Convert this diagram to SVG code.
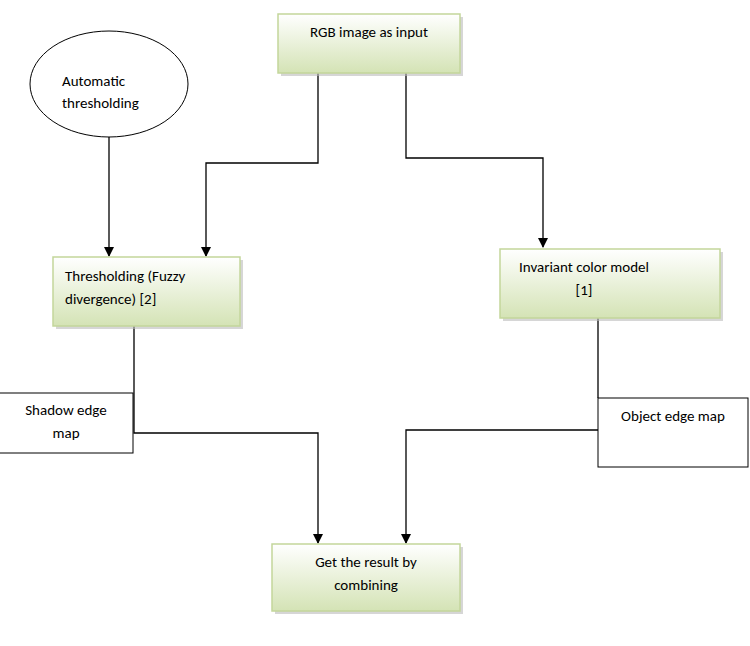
<svg xmlns="http://www.w3.org/2000/svg" width="750" height="646" viewBox="0 0 750 646">
<defs>
<linearGradient id="g" x1="0" y1="0" x2="0" y2="1"><stop offset="0" stop-color="#ffffff"/><stop offset="1" stop-color="#d4e3b5"/></linearGradient>
<marker id="a" markerWidth="10" markerHeight="10" refX="9" refY="5" orient="auto" markerUnits="userSpaceOnUse" viewBox="0 0 10 10"><path d="M0,0 L10,5 L0,10 z" fill="#000"/></marker>
</defs>
<style>
.gb{fill:url(#g);stroke:#c3d69b;stroke-width:1.5}
.sh{fill:#bbbbbb;opacity:0.6}
.wb{fill:#fff;stroke:#000;stroke-width:1}
text{font-family:Calibri,Carlito,"Liberation Sans",sans-serif;font-size:15px;fill:#000}
.c{fill:none;stroke:#000;stroke-width:1.3}
</style>
<rect width="750" height="646" fill="#fff"/>
<g id="connectors">
<path class="c" d="M109,137 V256" marker-end="url(#a)"/>
<path class="c" d="M318,73 V163 H206 V256" marker-end="url(#a)"/>
<path class="c" d="M406,73 V158 H543 V247" marker-end="url(#a)"/>
<path class="c" d="M134,326 V433 H318 V543" marker-end="url(#a)"/>
<path class="c" d="M598,318 V398"/>
<path class="c" d="M598,430 H406 V543" marker-end="url(#a)"/>
</g>
<g id="rgb"><rect class="sh" x="281" y="17" width="182" height="59"/><rect class="gb" x="278" y="14" width="182" height="59"/><text x="369" y="37" text-anchor="middle">RGB image as input</text></g>
<g id="auto"><ellipse cx="109" cy="84" rx="79" ry="53" fill="#fff" stroke="#000"/><text x="62" y="86">Automatic</text><text x="62" y="108">thresholding</text></g>
<g id="thresh"><rect class="sh" x="56" y="260" width="187" height="69"/><rect class="gb" x="53" y="257" width="187" height="69"/><text x="65" y="281">Thresholding (Fuzzy</text><text x="65" y="304">divergence) [2]</text></g>
<g id="invariant"><rect class="sh" x="503" y="252" width="220" height="69"/><rect class="gb" x="500" y="249" width="220" height="69"/><text x="584" y="272" text-anchor="middle">Invariant color model</text><text x="584" y="295" text-anchor="middle">[1]</text></g>
<g id="shadow"><rect class="wb" x="-1" y="393" width="134" height="60"/><text x="66" y="415" text-anchor="middle">Shadow edge</text><text x="66" y="438" text-anchor="middle">map</text></g>
<g id="object"><rect class="wb" x="598" y="398" width="150" height="69"/><text x="673" y="421" text-anchor="middle">Object edge map</text></g>
<g id="result"><rect class="sh" x="275" y="547" width="188" height="67"/><rect class="gb" x="272" y="544" width="188" height="67"/><text x="366" y="567" text-anchor="middle">Get the result by</text><text x="366" y="590" text-anchor="middle">combining</text></g>
</svg>
